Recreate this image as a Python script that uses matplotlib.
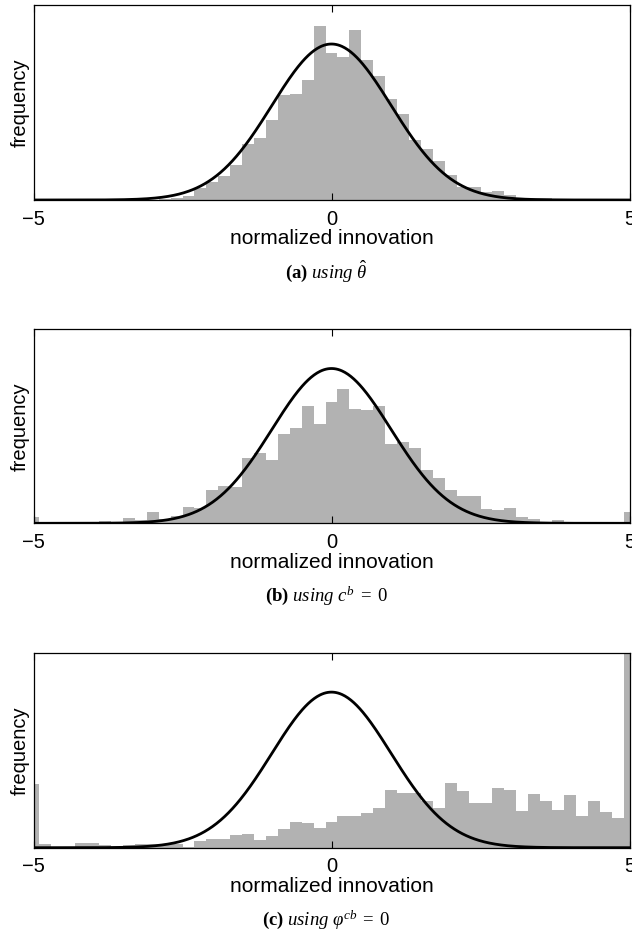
import numpy as np
import matplotlib
matplotlib.use("Agg")
import matplotlib.pyplot as plt

plt.rcParams["font.family"] = ["Liberation Sans", "DejaVu Sans"]
plt.rcParams["mathtext.fontset"] = "custom"
plt.rcParams["mathtext.rm"] = "Liberation Serif"
plt.rcParams["mathtext.it"] = "Liberation Serif:italic"
plt.rcParams["mathtext.bf"] = "Liberation Serif:bold"

# histogram bin centres (MATLAB hist style, -5:0.2:5) and normalised frequencies
centers = np.round(np.arange(-5, 5.0001, 0.2), 1)

freq_a = [0, 0, 0, 0, 0, 0, 0, 0, 0, 0,
          0.001, 0.002, 0.004, 0.010, 0.030, 0.047, 0.062, 0.089, 0.143, 0.159,
          0.204, 0.268, 0.270, 0.308, 0.446, 0.376, 0.366, 0.435, 0.359, 0.316,
          0.259, 0.221, 0.153, 0.130, 0.099, 0.065, 0.033, 0.033, 0.020, 0.022,
          0.013, 0.005, 0.005, 0.004, 0.003, 0.002, 0, 0, 0, 0, 0]

freq_b = [0.015, 0.002, 0.002, 0.003, 0.002, 0.001, 0.006, 0.002, 0.014, 0.009,
          0.029, 0.012, 0.019, 0.042, 0.039, 0.086, 0.097, 0.094, 0.169, 0.182,
          0.163, 0.230, 0.246, 0.302, 0.256, 0.313, 0.346, 0.295, 0.292, 0.302,
          0.204, 0.210, 0.195, 0.137, 0.116, 0.086, 0.071, 0.071, 0.037, 0.034,
          0.039, 0.016, 0.011, 0.004, 0.009, 0.004, 0.002, 0.002, 0.001, 0.001,
          0.028]

freq_c = [0.163, 0.009, 0.001, 0.003, 0.012, 0.012, 0.007, 0.003, 0.007, 0.009,
          0.009, 0.006, 0.009, 0.003, 0.018, 0.023, 0.023, 0.033, 0.035, 0.021,
          0.029, 0.048, 0.066, 0.063, 0.050, 0.066, 0.081, 0.081, 0.090, 0.102,
          0.148, 0.140, 0.140, 0.120, 0.101, 0.166, 0.145, 0.115, 0.115, 0.153,
          0.148, 0.094, 0.138, 0.120, 0.097, 0.135, 0.082, 0.120, 0.092, 0.076,
          0.600]

captions = [r"$\mathbf{(a)}\ \mathit{using}\ \hat{\theta}$",
            r"$\mathbf{(b)}\ \mathit{using}\ c^b\;=\;0$",
            r"$\mathbf{(c)}\ \mathit{using}\ \varphi^{cb}\;=\;0$"]

MU, SIGMA = 0.0, 1.0
xs = np.linspace(-5, 5, 600)
pdf = np.exp(-0.5 * ((xs - MU) / SIGMA) ** 2) / (SIGMA * np.sqrt(2 * np.pi))

W, H = 632, 944
fig = plt.figure(figsize=(W / 100, H / 100), dpi=100)

# axes boxes in pixels: (top, bottom), caption y
boxes = [(4.5, 200.0, 271), (329.3, 523.3, 596), (652.7, 847.7, 920)]
x0, x1 = 33.5, 629.5

for (top, bot, cy), freq, cap in zip(boxes, [freq_a, freq_b, freq_c], captions):
    ax = fig.add_axes([x0 / W, 1 - bot / H, (x1 - x0) / W, (bot - top) / H])
    ax.bar(centers, freq, width=0.2, color="#b2b2b2", linewidth=0)
    ax.plot(xs, pdf, color="black", lw=2)
    ax.set_xlim(-5, 5)
    ax.set_ylim(0, 0.5)
    ax.set_yticks([])
    ax.set_xticks([-5, 0, 5])
    ax.set_xticklabels(["\u22125", "0", "5"])
    ax.tick_params(axis="x", direction="in", top=True, length=5, width=0.8,
                   labelsize=14.5, pad=7)
    for s in ax.spines.values():
        s.set_linewidth(0.9)
    ax.set_xlabel("normalized innovation", fontsize=15, labelpad=0.5)
    ax.set_ylabel("frequency", fontsize=14.5, labelpad=3)
    fig.text(326 / W, 1 - cy / H, cap, ha="center", va="center",
             fontsize=13.5)

fig.savefig("out.png", dpi=100)
